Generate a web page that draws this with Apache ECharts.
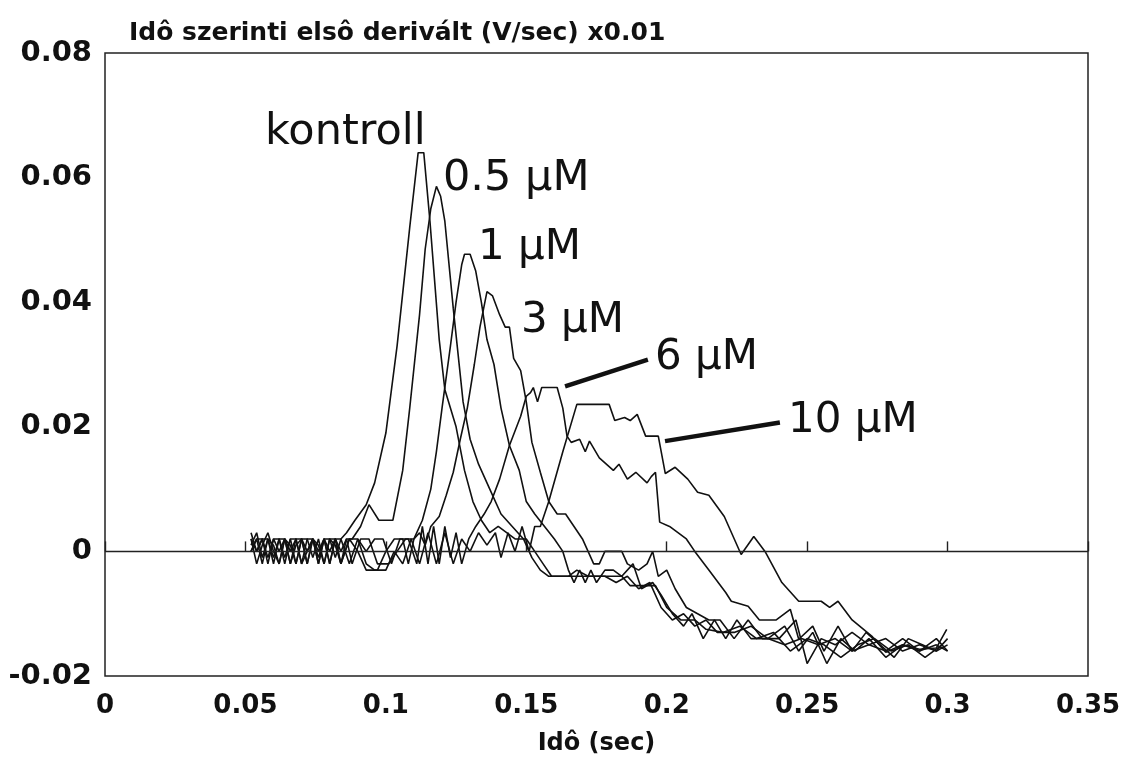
<!DOCTYPE html>
<html><head><meta charset="utf-8">
<script src="https://cdn.jsdelivr.net/npm/echarts@6/dist/echarts.min.js"></script>
<style>html,body{margin:0;padding:0;background:#fff}#c{width:1121px;height:759px}</style>
</head><body><div id="c"></div>
<script>
// ---- data (time in sec, derivative values) ----
const yAxisTitle = 'Idô szerinti elsô derivált (V/sec) x0.01';
const xAxisTitle = 'Idô (sec)';
const xTickLabels = ['0','0.05','0.1','0.15','0.2','0.25','0.3','0.35'];
const yTickLabels = ['-0.02','0','0.02','0.04','0.06','0.08'];
const seriesNames = ['kontroll','0.5 µM','1 µM','3 µM','6 µM','10 µM'];

const kontroll = [[0.052,0.003],[0.054,0.000],[0.056,0.002],[0.058,-0.002],[0.060,0.002],[0.062,0.002],[0.064,-0.001],[0.066,0.002],[0.068,-0.002],[0.070,0.002],[0.072,0.000],[0.074,0.002],[0.076,-0.002],[0.078,0.002],[0.080,0.002],[0.082,-0.001],[0.084,0.002],[0.086,0.003],[0.089,0.005],[0.093,0.0075],[0.096,0.011],[0.100,0.019],[0.104,0.033],[0.1085,0.052],[0.1115,0.064],[0.1135,0.064],[0.1157,0.053],[0.119,0.034],[0.121,0.026],[0.125,0.020],[0.128,0.013],[0.131,0.008],[0.134,0.005],[0.137,0.003],[0.140,0.004],[0.143,0.003],[0.146,0.002],[0.150,0.002],[0.153,0.000],[0.156,-0.002],[0.159,-0.004],[0.165,-0.004],[0.168,-0.003],[0.172,-0.004],[0.178,-0.004],[0.182,-0.005],[0.186,-0.004],[0.190,-0.006],[0.194,-0.005],[0.198,-0.009],[0.202,-0.011],[0.206,-0.010],[0.210,-0.012],[0.214,-0.011],[0.218,-0.013],[0.224,-0.013],[0.230,-0.012],[0.236,-0.014],[0.242,-0.015],[0.248,-0.014],[0.254,-0.015],[0.260,-0.014],[0.266,-0.016],[0.272,-0.015],[0.278,-0.016],[0.284,-0.014],[0.290,-0.016],[0.296,-0.015],[0.300,-0.016]];

const uM05 = [[0.052,0.002],[0.054,-0.002],[0.056,0.001],[0.058,0.003],[0.060,0.000],[0.062,-0.002],[0.064,0.002],[0.066,0.001],[0.068,-0.002],[0.070,0.002],[0.072,0.002],[0.074,-0.001],[0.076,0.002],[0.078,-0.002],[0.080,0.002],[0.082,0.001],[0.084,-0.002],[0.086,0.002],[0.088,0.002],[0.091,0.004],[0.094,0.0075],[0.0975,0.005],[0.1025,0.005],[0.106,0.013],[0.1085,0.023],[0.112,0.038],[0.114,0.0485],[0.116,0.055],[0.118,0.0586],[0.1195,0.057],[0.121,0.053],[0.124,0.039],[0.1275,0.024],[0.130,0.018],[0.133,0.014],[0.137,0.010],[0.141,0.006],[0.145,0.004],[0.149,0.002],[0.152,-0.001],[0.155,-0.003],[0.158,-0.004],[0.168,-0.004],[0.176,-0.004],[0.184,-0.004],[0.187,-0.0055],[0.196,-0.0055],[0.200,-0.009],[0.205,-0.011],[0.210,-0.011],[0.214,-0.0125],[0.220,-0.013],[0.226,-0.012],[0.232,-0.014],[0.238,-0.013],[0.244,-0.016],[0.250,-0.014],[0.256,-0.015],[0.262,-0.017],[0.268,-0.015],[0.274,-0.014],[0.280,-0.016],[0.286,-0.015],[0.292,-0.017],[0.298,-0.015]];

const uM1 = [[0.052,0.000],[0.054,0.002],[0.056,-0.002],[0.058,0.002],[0.060,0.001],[0.062,-0.002],[0.064,0.002],[0.066,0.000],[0.068,0.002],[0.070,-0.002],[0.072,0.002],[0.074,0.002],[0.076,-0.001],[0.078,0.002],[0.080,-0.002],[0.082,0.002],[0.084,0.000],[0.086,0.002],[0.088,-0.002],[0.091,0.002],[0.094,0.002],[0.097,-0.002],[0.101,-0.002],[0.104,0.000],[0.107,0.002],[0.110,0.002],[0.113,0.005],[0.116,0.010],[0.118,0.016],[0.120,0.023],[0.123,0.033],[0.125,0.040],[0.127,0.046],[0.128,0.0477],[0.130,0.0477],[0.132,0.045],[0.134,0.040],[0.136,0.034],[0.1385,0.030],[0.141,0.023],[0.144,0.017],[0.1475,0.013],[0.150,0.008],[0.153,0.006],[0.1565,0.004],[0.160,0.002],[0.163,0.000],[0.165,-0.003],[0.167,-0.005],[0.169,-0.003],[0.171,-0.005],[0.173,-0.003],[0.175,-0.005],[0.178,-0.003],[0.181,-0.003],[0.184,-0.004],[0.188,-0.002],[0.191,-0.006],[0.195,-0.005],[0.198,-0.007],[0.202,-0.010],[0.206,-0.012],[0.209,-0.010],[0.213,-0.014],[0.217,-0.011],[0.221,-0.014],[0.225,-0.011],[0.230,-0.014],[0.236,-0.014],[0.242,-0.012],[0.247,-0.016],[0.252,-0.013],[0.257,-0.018],[0.262,-0.014],[0.267,-0.016],[0.272,-0.014],[0.278,-0.017],[0.284,-0.015],[0.290,-0.016],[0.296,-0.014],[0.300,-0.016]];

const uM3 = [[0.052,0.001],[0.054,0.003],[0.056,-0.001],[0.058,0.002],[0.060,-0.002],[0.062,0.002],[0.064,0.002],[0.066,-0.002],[0.068,0.001],[0.070,0.002],[0.072,-0.002],[0.074,0.002],[0.076,0.001],[0.078,-0.002],[0.080,0.002],[0.082,0.002],[0.084,-0.002],[0.087,0.002],[0.090,0.000],[0.093,-0.003],[0.097,-0.003],[0.100,0.000],[0.103,0.002],[0.106,0.002],[0.108,-0.002],[0.110,0.002],[0.112,0.003],[0.114,0.001],[0.116,0.004],[0.119,0.0056],[0.1215,0.009],[0.124,0.0127],[0.1265,0.018],[0.129,0.023],[0.1315,0.030],[0.1335,0.036],[0.136,0.0417],[0.138,0.041],[0.1405,0.038],[0.1425,0.036],[0.144,0.036],[0.1455,0.031],[0.148,0.029],[0.150,0.024],[0.152,0.0175],[0.155,0.0127],[0.158,0.008],[0.161,0.006],[0.164,0.006],[0.167,0.004],[0.170,0.002],[0.172,0.000],[0.174,-0.002],[0.176,-0.002],[0.178,0.000],[0.184,0.000],[0.186,-0.002],[0.190,-0.003],[0.193,-0.002],[0.195,0.000],[0.197,-0.004],[0.200,-0.003],[0.203,-0.006],[0.207,-0.009],[0.211,-0.010],[0.215,-0.011],[0.219,-0.011],[0.224,-0.014],[0.229,-0.011],[0.234,-0.014],[0.240,-0.014],[0.246,-0.011],[0.250,-0.018],[0.255,-0.014],[0.260,-0.015],[0.266,-0.013],[0.272,-0.015],[0.278,-0.014],[0.284,-0.016],[0.290,-0.015],[0.296,-0.016],[0.300,-0.015]];

const uM6 = [[0.052,0.002],[0.054,0.000],[0.056,0.002],[0.058,0.002],[0.060,-0.001],[0.062,0.002],[0.064,-0.002],[0.066,0.002],[0.068,0.002],[0.070,-0.002],[0.072,0.000],[0.074,0.002],[0.076,-0.002],[0.078,0.002],[0.080,0.000],[0.082,0.002],[0.084,-0.002],[0.087,0.002],[0.090,0.002],[0.093,0.000],[0.096,0.002],[0.099,0.002],[0.102,-0.002],[0.105,0.002],[0.108,0.002],[0.111,-0.002],[0.113,0.004],[0.115,-0.002],[0.117,0.004],[0.119,-0.002],[0.121,0.004],[0.123,-0.001],[0.125,0.003],[0.127,-0.002],[0.1295,0.002],[0.132,0.004],[0.135,0.006],[0.1375,0.008],[0.1405,0.0116],[0.144,0.017],[0.148,0.0217],[0.150,0.0249],[0.1515,0.0255],[0.1525,0.0263],[0.154,0.024],[0.1555,0.0263],[0.161,0.0263],[0.163,0.023],[0.1645,0.0185],[0.166,0.0175],[0.169,0.018],[0.171,0.016],[0.1725,0.0177],[0.176,0.015],[0.181,0.013],[0.183,0.014],[0.186,0.0116],[0.189,0.0127],[0.193,0.011],[0.1945,0.012],[0.196,0.0127],[0.1975,0.0047],[0.201,0.004],[0.207,0.002],[0.210,0.000],[0.215,-0.003],[0.221,-0.0066],[0.223,-0.008],[0.229,-0.0088],[0.233,-0.011],[0.239,-0.011],[0.244,-0.0093],[0.247,-0.0141],[0.252,-0.012],[0.256,-0.016],[0.261,-0.012],[0.266,-0.016],[0.271,-0.013],[0.276,-0.015],[0.281,-0.017],[0.286,-0.014],[0.291,-0.015],[0.296,-0.016],[0.300,-0.014]];

const uM10 = [[0.052,0.000],[0.054,0.002],[0.056,0.002],[0.058,-0.001],[0.060,0.002],[0.062,0.000],[0.064,0.002],[0.066,-0.002],[0.068,0.002],[0.070,0.002],[0.072,-0.002],[0.074,0.002],[0.076,0.000],[0.078,0.002],[0.080,-0.002],[0.082,0.002],[0.084,0.002],[0.087,-0.002],[0.090,0.002],[0.093,-0.002],[0.096,-0.003],[0.100,-0.003],[0.103,0.000],[0.106,-0.002],[0.109,0.002],[0.112,-0.002],[0.115,0.003],[0.118,-0.002],[0.121,0.003],[0.124,-0.002],[0.127,0.002],[0.130,0.000],[0.133,0.003],[0.136,0.001],[0.139,0.003],[0.141,-0.001],[0.1435,0.003],[0.146,0.000],[0.1485,0.004],[0.151,0.000],[0.153,0.004],[0.155,0.004],[0.158,0.008],[0.163,0.016],[0.168,0.0236],[0.1795,0.0236],[0.1815,0.021],[0.185,0.0215],[0.187,0.021],[0.1895,0.022],[0.1925,0.0185],[0.197,0.0185],[0.1995,0.0125],[0.203,0.0135],[0.2075,0.0116],[0.211,0.0095],[0.215,0.009],[0.2205,0.0056],[0.2265,-0.0005],[0.231,0.0024],[0.235,0.000],[0.241,-0.005],[0.247,-0.008],[0.255,-0.008],[0.258,-0.009],[0.261,-0.008],[0.266,-0.011],[0.273,-0.0136],[0.278,-0.0162],[0.284,-0.015],[0.290,-0.0157],[0.296,-0.0155],[0.2997,-0.0125]];

// leader lines for the 6 µM and 10 µM labels (data coordinates: [time, value])
const leader6 = [[0.1638,0.0265],[0.1933,0.0308]];
const leader10 = [[0.1994,0.0177],[0.2403,0.0207]];

// ---- layout / style ----
const FONT = '"DejaVu Sans", "Liberation Sans", sans-serif';
const INK = '#111';
const labelLayout = [
  {x:265, y:111, size:43},
  {x:443, y:157, size:43},
  {x:478, y:227, size:42},
  {x:521, y:300, size:42},
  {x:655, y:337, size:42},
  {x:788, y:400, size:42}
];
const seriesData = [kontroll, uM05, uM1, uM3, uM6, uM10];

const chart = echarts.init(document.getElementById('c'), null, {renderer:'canvas'});
const series = seriesData.map((d, i) => ({
  name: seriesNames[i],
  type: 'line',
  data: d,
  showSymbol: false,
  symbol: 'none',
  silent: true,
  lineStyle: {color: INK, width: 1.6},
  z: 3
}));
series[0].markLine = {
  silent: true, symbol: 'none', animation: false,
  label: {show: false},
  lineStyle: {color: '#222', width: 1.4, type: 'solid'},
  data: [{yAxis: 0}]
};
series[4].markLine = {
  silent: true, symbol: 'none', animation: false,
  label: {show: false},
  lineStyle: {color: INK, width: 4.5, type: 'solid'},
  data: [
    [{coord: leader6[0]}, {coord: leader6[1]}],
    [{coord: leader10[0]}, {coord: leader10[1]}]
  ]
};

chart.setOption({
  animation: false,
  backgroundColor: '#fff',
  title: {
    text: yAxisTitle, left: 124, top: 16,
    textStyle: {fontFamily: FONT, fontSize: 25, fontWeight: 'bold', color: INK}
  },
  grid: {left: 105, right: 33, top: 53, bottom: 83, containLabel: false, outerBoundsMode: 'none', show: true, borderColor: '#222', borderWidth: 1.5, backgroundColor: 'transparent'},
  xAxis: {
    type: 'value', min: 0, max: 0.35, interval: 0.05,
    name: xAxisTitle, nameLocation: 'middle', nameGap: 56,
    nameTextStyle: {fontFamily: FONT, fontSize: 24, fontWeight: 'bold', color: INK},
    axisLine: {show: false},
    axisTick: {show: true, inside: true, length: 10, lineStyle: {color: '#222', width: 1.4}},
    axisLabel: {formatter: v => xTickLabels[Math.round(v / 0.05)], margin: 17, fontFamily: FONT, fontSize: 26, fontWeight: 'bold', color: INK},
    splitLine: {show: false}
  },
  yAxis: {
    type: 'value', min: -0.02, max: 0.08, interval: 0.02,
    axisLine: {show: false},
    axisTick: {show: false},
    axisLabel: {formatter: v => yTickLabels[Math.round((v + 0.02) / 0.02)], margin: 13, fontFamily: FONT, fontSize: 29, fontWeight: 'bold', color: INK},
    splitLine: {show: false}
  },
  series: series,
  graphic: seriesNames.map((name, i) => ({
    type: 'text', silent: true, z: 10,
    x: labelLayout[i].x, y: labelLayout[i].y,
    style: {text: name, fill: INK, font: labelLayout[i].size + 'px ' + FONT, textVerticalAlign: 'top'}
  }))
});
</script></body></html>
